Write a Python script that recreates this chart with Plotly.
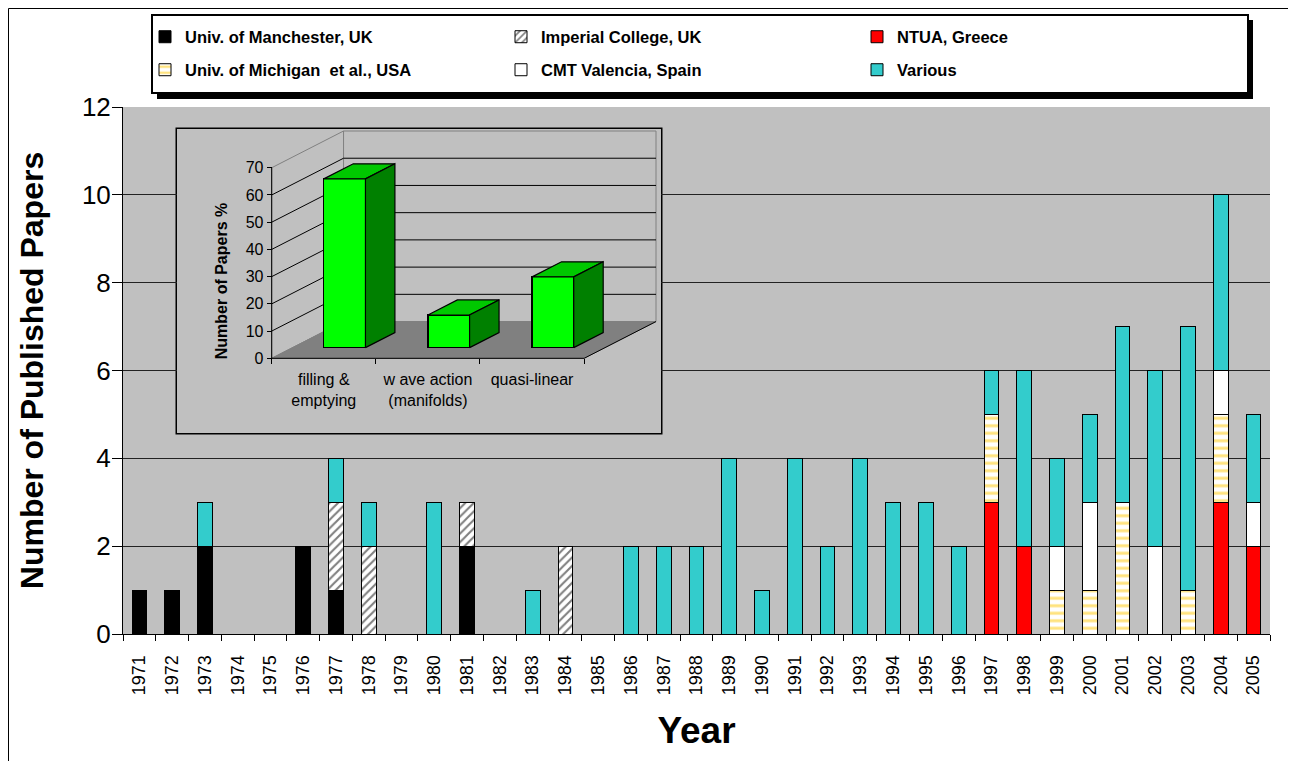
import plotly.graph_objects as go

# ---------------- data ----------------
years = [str(y) for y in range(1971, 2006)]
manchester = [1, 1, 2, 0, 0, 2, 1, 0, 0, 0, 2, 0, 0, 0, 0, 0, 0, 0, 0, 0, 0, 0, 0, 0, 0, 0, 0, 0, 0, 0, 0, 0, 0, 0, 0]
imperial   = [0, 0, 0, 0, 0, 0, 2, 2, 0, 0, 1, 0, 0, 2, 0, 0, 0, 0, 0, 0, 0, 0, 0, 0, 0, 0, 0, 0, 0, 0, 0, 0, 0, 0, 0]
ntua       = [0, 0, 0, 0, 0, 0, 0, 0, 0, 0, 0, 0, 0, 0, 0, 0, 0, 0, 0, 0, 0, 0, 0, 0, 0, 0, 3, 2, 0, 0, 0, 0, 0, 3, 2]
michigan   = [0, 0, 0, 0, 0, 0, 0, 0, 0, 0, 0, 0, 0, 0, 0, 0, 0, 0, 0, 0, 0, 0, 0, 0, 0, 0, 2, 0, 1, 1, 3, 0, 1, 2, 0]
cmt        = [0, 0, 0, 0, 0, 0, 0, 0, 0, 0, 0, 0, 0, 0, 0, 0, 0, 0, 0, 0, 0, 0, 0, 0, 0, 0, 0, 0, 1, 2, 0, 2, 0, 1, 1]
various    = [0, 0, 1, 0, 0, 0, 1, 1, 0, 3, 0, 0, 1, 0, 0, 2, 2, 2, 4, 1, 4, 2, 4, 3, 3, 2, 1, 4, 2, 2, 4, 4, 6, 4, 2]

y_ticks = [0, 2, 4, 6, 8, 10, 12]

inset_categories = ["filling &<br>emptying", "w ave action<br>(manifolds)", "quasi-linear"]
inset_values = [62, 12, 26]
inset_ticks = [0, 10, 20, 30, 40, 50, 60, 70]

# ---------------- layout geometry (screen pixels; page body has an 8px margin) ----------------
OFF = 8
W, H = 1296 - OFF, 761 - OFF
P_LEFT, P_RIGHT, P_TOP, P_BOTTOM = 123, 1270, 107, 634
ML, MR = P_LEFT - OFF, W - (P_RIGHT - OFF)
MT, MB = P_TOP - OFF, H - (P_BOTTOM - OFF)
PW, PH = P_RIGHT - P_LEFT, P_BOTTOM - P_TOP


def px_x(px):
    return (px - P_LEFT) / PW


def px_y(py):
    return (P_BOTTOM - py) / PH


FONT = "Arial, Liberation Sans, sans-serif"

fig = go.Figure()

series = [
    ("Univ. of Manchester, UK", manchester, dict(color="black"), "legend"),
    ("Imperial College, UK", imperial,
     dict(color="white", pattern=dict(shape="/", fgcolor="black", bgcolor="white", size=6, solidity=0.35)),
     "legend"),
    ("NTUA, Greece", ntua, dict(color="#ff0000"), "legend"),
    ("Univ. of Michigan  et al., USA", michigan,
     dict(color="white", pattern=dict(shape="-", fgcolor="#ffc800", bgcolor="white", size=7.5, solidity=0.4)),
     "legend2"),
    ("CMT Valencia, Spain", cmt, dict(color="white"), "legend2"),
    ("Various", various, dict(color="#33cccc"), "legend2"),
]
for name, vals, mk, lg in series:
    mk = dict(mk)
    mk["line"] = dict(color="black", width=1)
    fig.add_trace(go.Bar(
        x=years, y=[v if v else None for v in vals], name=name, legend=lg,
        marker=mk, xaxis="x", yaxis="y", hoverinfo="skip"))

# ---------------- inset (pseudo-3D column chart) ----------------
DX, DY = 0.69, 13.5          # depth vector in inset axis units
F0, F1 = 0.29, 0.70          # bar depth span (fraction of floor depth)
BW = 0.4                     # bar width
WALL = 70
ncat = len(inset_categories)

box_px = (177, 661, 129, 433)       # left, right, top, bottom (screen pixels)
origin_px = (271.7, 358.3)          # screen pixel of inset (0, 0)
ux = (656 - 271.7) / (ncat + DX)    # px per x unit
uy = (358.3 - 131) / (WALL + DY)    # px per y unit
x2_range = [(box_px[0] - origin_px[0]) / ux, (box_px[1] - origin_px[0]) / ux]
y2_range = [(origin_px[1] - box_px[3]) / uy, (origin_px[1] - box_px[2]) / uy]
x2_domain = [px_x(box_px[0]), px_x(box_px[1])]
y2_domain = [px_y(box_px[3]), px_y(box_px[2])]


def poly(pts):
    return "M " + " L ".join(f"{x},{y}" for x, y in pts) + " Z"


shapes = []
# main chart outer frame
shapes.append(dict(type="rect", xref="paper", yref="paper", x0=px_x(OFF + 0.5), x1=px_x(1330),
                   y0=px_y(800), y1=px_y(OFF + 0.5), line=dict(color="black", width=1), layer="below"))
# legend frame with shadow
shapes.append(dict(type="rect", xref="paper", yref="paper", x0=px_x(157), x1=px_x(1253),
                   y0=px_y(99), y1=px_y(20), fillcolor="black", line=dict(width=0), layer="below"))
shapes.append(dict(type="rect", xref="paper", yref="paper", x0=px_x(152), x1=px_x(1248),
                   y0=px_y(93), y1=px_y(15), fillcolor="white", line=dict(color="black", width=2),
                   layer="below"))
# white inset frame
shapes.append(dict(type="rect", xref="x2 domain", yref="y2 domain", x0=0, x1=1, y0=0, y1=1,
                   fillcolor="white", line=dict(color="black", width=3), layer="below"))
# walls and floor
shapes.append(dict(type="path", xref="x2", yref="y2", layer="below",
                   path=poly([(0, 0), (0, WALL), (DX, WALL + DY), (DX, DY)]),
                   fillcolor="#c0c0c0", line=dict(color="#808080", width=1)))
shapes.append(dict(type="path", xref="x2", yref="y2", layer="below",
                   path=poly([(DX, DY), (DX, WALL + DY), (ncat + DX, WALL + DY), (ncat + DX, DY)]),
                   fillcolor="#c0c0c0", line=dict(color="#808080", width=1)))
shapes.append(dict(type="path", xref="x2", yref="y2", layer="below",
                   path=poly([(0, 0), (ncat, 0), (ncat + DX, DY), (DX, DY)]),
                   fillcolor="#808080", line=dict(color="#808080", width=1)))
for v in inset_ticks[1:-1]:
    shapes.append(dict(type="path", xref="x2", yref="y2", layer="below",
                       path=f"M 0,{v} L {DX},{v + DY} L {ncat + DX},{v + DY}",
                       line=dict(color="black", width=1)))
# front edges
shapes.append(dict(type="path", xref="x2", yref="y2", layer="below",
                   path=f"M 0,{WALL} L 0,0 L {ncat},0 L {ncat + DX},{DY}",
                   line=dict(color="black", width=1)))

centers = [i + 0.5 + F0 * DX for i in range(ncat)]
base = F0 * DY
ddx, ddy = (F1 - F0) * DX, (F1 - F0) * DY

fig.add_trace(go.Bar(x=centers, y=inset_values, base=[base] * ncat, width=BW,
                     marker=dict(color="#00ff00", line=dict(color="black", width=1.2)),
                     xaxis="x2", yaxis="y2", showlegend=False, hoverinfo="skip"))
for c, v in zip(centers, inset_values):
    top = base + v
    fig.add_trace(go.Scatter(
        x=[c - BW / 2, c + BW / 2, c + BW / 2 + ddx, c - BW / 2 + ddx, c - BW / 2],
        y=[top, top, top + ddy, top + ddy, top],
        fill="toself", fillcolor="#00c800", mode="lines", line=dict(color="black", width=1.2),
        xaxis="x2", yaxis="y2", showlegend=False, hoverinfo="skip"))
    fig.add_trace(go.Scatter(
        x=[c + BW / 2, c + BW / 2, c + BW / 2 + ddx, c + BW / 2 + ddx, c + BW / 2],
        y=[base, top, top + ddy, base + ddy, base],
        fill="toself", fillcolor="#008000", mode="lines", line=dict(color="black", width=1.2),
        xaxis="x2", yaxis="y2", showlegend=False, hoverinfo="skip"))

legend_common = dict(orientation="h", xanchor="left", yanchor="middle",
                     bgcolor="rgba(0,0,0,0)", borderwidth=0,
                     font=dict(family=FONT, size=16.5, weight="bold", color="black"),
                     entrywidth=311, entrywidthmode="pixels", itemwidth=30, traceorder="normal")

fig.update_layout(
    width=W, height=H,
    margin=dict(l=ML, r=MR, t=MT, b=MB, autoexpand=False),
    paper_bgcolor="white", plot_bgcolor="#c0c0c0",
    barmode="stack", bargap=0.55,
    hovermode=False,
    font=dict(family=FONT, color="black"),
    shapes=shapes,
    legend=dict(legend_common, x=px_x(145), y=px_y(37)),
    legend2=dict(legend_common, x=px_x(145), y=px_y(70)),
    xaxis=dict(type="category", domain=[0, 1], showgrid=False, showline=True, linecolor="black",
               linewidth=1, ticks="outside", ticklen=6, tickcolor="black", tickson="boundaries",
               tickangle=-90, tickfont=dict(size=18), ticklabelstandoff=13, automargin=False,
               title=dict(text="<b>Year</b>", font=dict(size=37), standoff=22)),
    yaxis=dict(range=[0, 12], tickvals=y_ticks, showgrid=True, gridcolor="#222222", gridwidth=1,
               showline=True, linecolor="black", ticks="outside", ticklen=10, tickcolor="black",
               tickfont=dict(size=26), ticklabelstandoff=-4, zeroline=False, automargin=False,
               title=dict(text="<b>Number of Published Papers</b>", font=dict(size=32), standoff=28)),
    xaxis2=dict(domain=x2_domain, range=x2_range, anchor="free", position=px_y(origin_px[1]),
                tickvals=[i + 0.5 for i in range(ncat)], ticktext=inset_categories, ticks="",
                tickfont=dict(size=16), showgrid=False, zeroline=False, showline=False,
                ticklabelstandoff=10, automargin=False,
                minor=dict(tickvals=list(range(ncat + 1)), ticks="outside", ticklen=5,
                           tickcolor="black", showgrid=False)),
    yaxis2=dict(domain=y2_domain, range=y2_range, anchor="free", position=px_x(origin_px[0]),
                tickvals=inset_ticks, ticks="outside", ticklen=5, tickcolor="black",
                tickfont=dict(size=16), showgrid=False, zeroline=False, showline=False,
                automargin=False,
                title=dict(text="<b>Number of Papers %</b>", font=dict(size=16), standoff=13)),
)

fig.write_html("out.html")
